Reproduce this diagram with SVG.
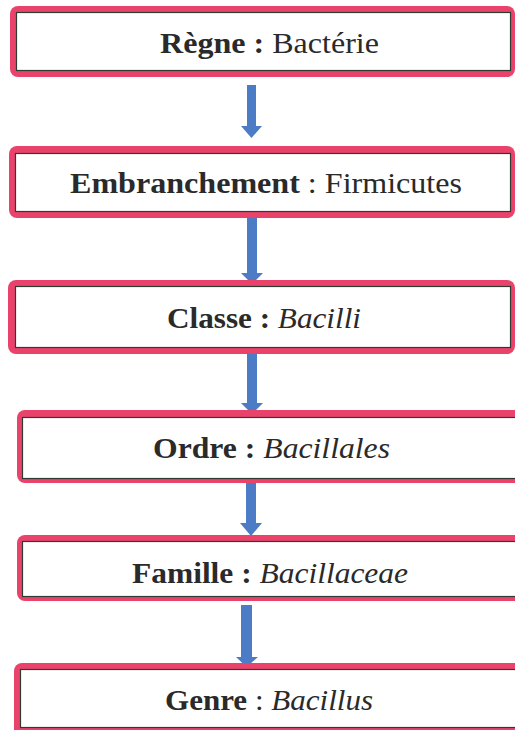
<svg xmlns="http://www.w3.org/2000/svg" width="515" height="730" viewBox="0 0 515 730">
<style>
.outer{fill:#e9436c}
.inner{fill:#ffffff;stroke:#2f3a33;stroke-width:1.2}
.arr{fill:#4d7cc6}
</style>
<rect width="515" height="730" fill="#ffffff"/>
<g id="connectors">
<polygon class="arr" points="247,85 256,85 256,126 262,126 251.5,138 241,126 247,126"/>
<polygon class="arr" points="247,218 257,218 257,273 263,273 252,284 241,273 247,273"/>
<polygon class="arr" points="247,354 257,354 257,403 263,403 252,414 241,403 247,403"/>
<polygon class="arr" points="246,483 256,483 256,523 262,523 251,536 240,523 246,523"/>
<polygon class="arr" points="241,605 252,605 252,657 258,657 246.5,667 236,657 241,657"/>
</g>
<g id="regne">
<rect class="outer" x="10" y="6" width="505" height="71" rx="8"/>
<rect class="inner" x="16.5" y="12.5" width="494" height="58"/>
<text font-family="Liberation Serif" font-size="30" fill="#2a2a2a" x="160" y="53" textLength="219" lengthAdjust="spacingAndGlyphs"><tspan font-weight="bold">Règne :</tspan> Bactérie</text>
</g>
<g id="embranchement">
<rect class="outer" x="9" y="146" width="506" height="72" rx="8"/>
<rect class="inner" x="15.5" y="153.5" width="495" height="58"/>
<text font-family="Liberation Serif" font-size="30" fill="#2a2a2a" x="70" y="193" textLength="392" lengthAdjust="spacingAndGlyphs"><tspan font-weight="bold">Embranchement</tspan> : Firmicutes</text>
</g>
<g id="classe">
<rect class="outer" x="8" y="280" width="507" height="74" rx="8"/>
<rect class="inner" x="15.5" y="286.5" width="495" height="61"/>
<text font-family="Liberation Serif" font-size="30" fill="#2a2a2a" x="167" y="328" textLength="194" lengthAdjust="spacingAndGlyphs"><tspan font-weight="bold">Classe :</tspan> <tspan font-style="italic">Bacilli</tspan></text>
</g>
<g id="ordre">
<rect class="outer" x="17" y="410" width="510" height="73" rx="8"/>
<rect class="inner" x="22.5" y="417.5" width="500" height="61"/>
<text font-family="Liberation Serif" font-size="30" fill="#2a2a2a" x="153" y="458" textLength="237" lengthAdjust="spacingAndGlyphs"><tspan font-weight="bold">Ordre :</tspan> <tspan font-style="italic">Bacillales</tspan></text>
</g>
<g id="famille">
<rect class="outer" x="17" y="535" width="510" height="66" rx="8"/>
<rect class="inner" x="22.5" y="541.5" width="500" height="55"/>
<text font-family="Liberation Serif" font-size="30" fill="#2a2a2a" x="132" y="583" textLength="276" lengthAdjust="spacingAndGlyphs"><tspan font-weight="bold">Famille :</tspan> <tspan font-style="italic">Bacillaceae</tspan></text>
</g>
<g id="genre">
<rect class="outer" x="14" y="663" width="513" height="75" rx="8"/>
<rect class="inner" x="20.5" y="669.5" width="502" height="58"/>
<text font-family="Liberation Serif" font-size="30" fill="#2a2a2a" x="165" y="710" textLength="208" lengthAdjust="spacingAndGlyphs"><tspan font-weight="bold">Genre</tspan> : <tspan font-style="italic">Bacillus</tspan></text>
</g>
</svg>
